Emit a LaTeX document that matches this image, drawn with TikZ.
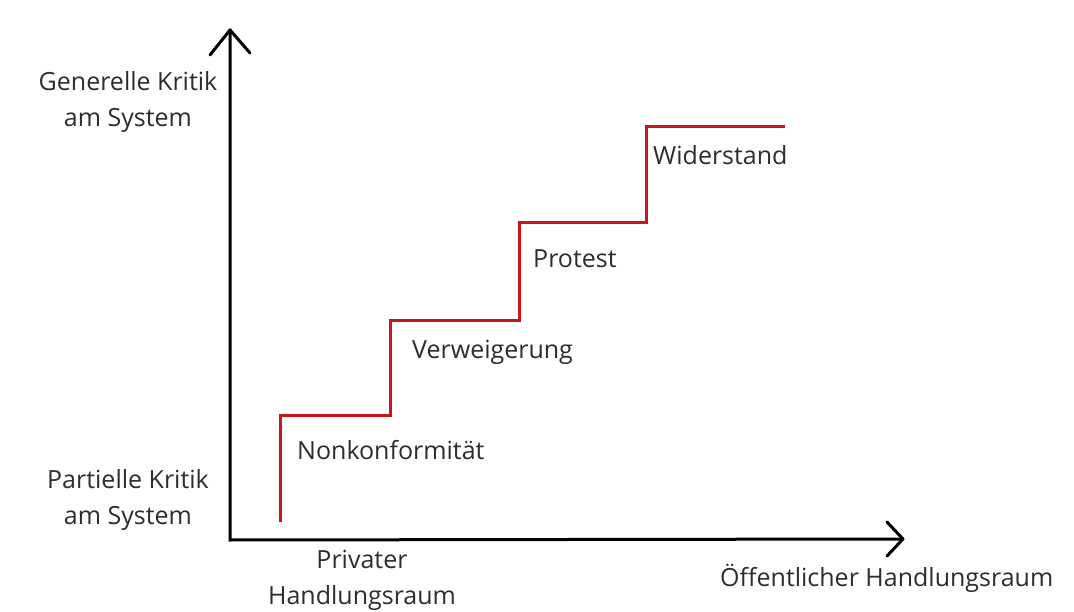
\documentclass[tikz,border=0pt]{standalone}
\usepackage{fontspec}
\setmainfont{Open Sans}
\begin{document}
\begin{tikzpicture}[x=1pt,y=-1pt,
  axis/.style={line width=3pt,black},
  stair/.style={line width=3pt,draw={rgb,255:red,200;green,22;blue,29},line join=miter},
  lbl/.style={text={rgb,255:red,45;green,45;blue,45},font=\fontsize{25}{36}\selectfont,inner sep=0pt},
  ]
\useasboundingbox[fill=white] (0,0) rectangle (1074,612);
\coordinate (O) at (230,540);
\coordinate (Ytip) at (230,30);
\coordinate (Xtip) at (903,539);
\coordinate (ya) at (210,55);
\coordinate (yb) at (250,53);
\coordinate (xa) at (887,522);
\coordinate (xb) at (887,556);
\draw[axis,line cap=round] (Ytip) -- (O) -- (Xtip);
\draw[axis,line cap=round,line join=round] (ya) -- (Ytip) -- (yb);
\draw[axis,line cap=round,line join=round] (xa) -- (Xtip) -- (xb);
\coordinate (s0) at (280,522);
\coordinate (s1) at (280,415);
\coordinate (s2) at (390,415);
\coordinate (s3) at (390,321);
\coordinate (s4) at (519,321);
\coordinate (s5) at (519,223);
\coordinate (s6) at (646,223);
\coordinate (s7) at (646,127);
\coordinate (s8) at (785,127);
\draw[stair] (s0) -- (s1) -- (s2) -- (s3) -- (s4) -- (s5) -- (s6) -- (s7) -- (s8);
\node[lbl,align=center] (gen) at (128,102) {Generelle Kritik\\am System};
\node[lbl,align=center] (par) at (128,500) {Partielle Kritik\\am System};
\node[lbl,align=center] (priv) at (362,580) {Privater\\Handlungsraum};
\node[lbl,anchor=west] (oef) at (720,578) {Öffentlicher Handlungsraum};
\node[lbl,anchor=west] (n1) at (297,450) {Nonkonformität};
\node[lbl,anchor=west] (n2) at (412,352) {Verweigerung};
\node[lbl,anchor=west] (n3) at (533,259) {Protest};
\node[lbl,anchor=west] (n4) at (653,155) {Widerstand};
\end{tikzpicture}
\end{document}
